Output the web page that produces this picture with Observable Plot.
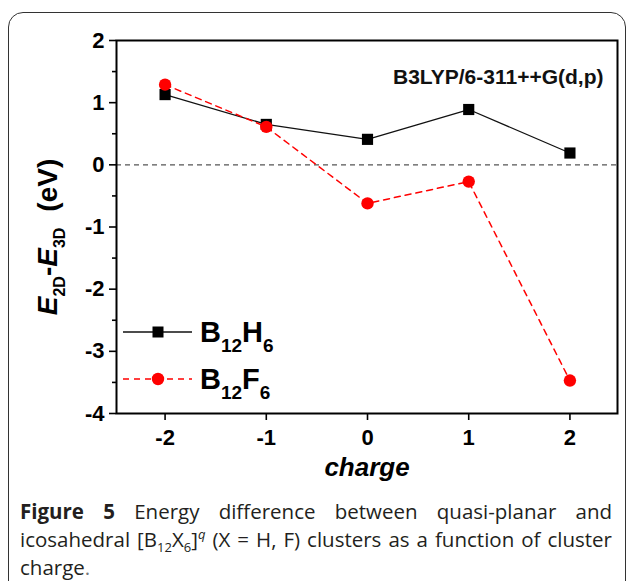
<!DOCTYPE html>
<html>
<head>
<meta charset="utf-8">
<script src="https://cdn.jsdelivr.net/npm/d3@7"></script>
<script src="https://cdn.jsdelivr.net/npm/@observablehq/plot@0.6"></script>
<style>
  html, body { margin: 0; padding: 0; background: #fff; width: 629px; height: 581px; overflow: hidden; }
  #box { position: absolute; left: 8px; top: 12px; width: 618px; height: 620px; border: 1.5px solid #333; border-radius: 15px; box-sizing: border-box; }
  #chart { position: absolute; left: 0; top: 0; }
  #caption { position: absolute; left: 20px; top: 497px; width: 592px; font-family: "Open Sans", "Noto Sans", sans-serif; font-size: 20.5px; font-weight: 500; line-height: 28px; color: #231f20; }
  #caption .j { text-align: justify; text-align-last: justify; }
  #caption b { font-weight: 700; }
  #caption sub, #caption sup { font-size: 13px; line-height: 0; }
  .leg { position: absolute; left: 121px; display: flex; align-items: center; height: 24px; font-family: "Liberation Sans", Arial, sans-serif; font-weight: bold; font-size: 29px; color: #000; }
  .leg .s { font-size: 19px; position: relative; top: 10px; }
</style>
</head>
<body>
<div id="box"></div>
<div id="chart"></div>
<div id="caption">
  <div class="j"><b>Figure 5</b> Energy difference between quasi-planar and</div>
  <div class="j">icosahedral [B<sub>12</sub>X<sub>6</sub>]<sup><i>q</i></sup> (X = H, F) clusters as a function of cluster</div>
  <div>charge<span style="color:#777">.</span></div>
</div>
<script>
// ---- data ----
const charges = [-2, -1, 0, 1, 2];
const b12h6 = [1.13, 0.65, 0.41, 0.89, 0.19];
const b12f6 = [1.29, 0.61, -0.62, -0.27, -3.47];
const xTicks = [-2, -1, 0, 1, 2];
const yTicks = [-4, -3, -2, -1, 0, 1, 2];
const yMinor = [-3.5, -2.5, -1.5, -0.5, 0.5, 1.5];
const seriesNames = ["B12H6", "B12F6"];
const methodLabel = "B3LYP/6-311++G(d,p)";
const xLabel = "charge";

const hData = charges.map((c, i) => ({x: c, y: b12h6[i]}));
const fData = charges.map((c, i) => ({x: c, y: b12f6[i]}));

const red = "#ff0000";

const plot = Plot.plot({
  width: 629,
  height: 490,
  marginLeft: 116,
  marginRight: 12,
  marginTop: 40,
  marginBottom: 77,
  style: {fontFamily: "'Liberation Sans', Arial, sans-serif", fontWeight: "bold", fontSize: "20px", color: "#000", background: "transparent", overflow: "visible"},
  x: {domain: [-2.48, 2.47]},
  y: {domain: [-4, 2]},
  marks: [
    Plot.ruleY([0], {stroke: "#555", strokeWidth: 1.2, strokeDasharray: "5,4"}),
    Plot.axisX({ticks: xTicks, tickSize: 7, tickPadding: 9, strokeWidth: 1.6, tickFormat: d => String(d), label: null, fontSize: 22, fontWeight: "bold"}),
    Plot.axisY({ticks: yTicks, tickSize: 7, tickPadding: 5, strokeWidth: 1.6, tickFormat: d => String(d), label: null, fontSize: 22, fontWeight: "bold"}),
    Plot.axisY({ticks: yMinor, tickSize: 4, strokeWidth: 1.6, text: null, label: null}),
    Plot.line(hData, {x: "x", y: "y", stroke: "#111", strokeWidth: 1.3}),
    Plot.dot(hData, {x: "x", y: "y", symbol: "square", r: 6.3, fill: "#000", stroke: "none"}),
    Plot.line(fData, {x: "x", y: "y", stroke: red, strokeWidth: 1.5, strokeDasharray: "6,5"}),
    Plot.dot(fData, {x: "x", y: "y", symbol: "circle", r: 6.2, fill: red, stroke: "none"}),
    Plot.frame({stroke: "#000", strokeWidth: 2}),
    Plot.text([methodLabel], {frameAnchor: "top-right", textAnchor: "end", lineAnchor: "middle", dx: -14, dy: 37, fontSize: 21, fontWeight: "bold", fill: "#111"}),
    Plot.text([xLabel], {frameAnchor: "bottom", lineAnchor: "middle", dy: 54, fontSize: 26, fontWeight: "bold", fontStyle: "italic", fill: "#000"})
  ]
});
document.getElementById("chart").appendChild(plot);

// y-axis label with subscripts
const svg = d3.select(plot);
const yl = svg.append("text")
  .attr("transform", "translate(57,237) rotate(-90)")
  .attr("text-anchor", "middle")
  .attr("font-size", 28)
  .attr("font-weight", "bold")
  .attr("fill", "#000");
yl.append("tspan").attr("font-style", "italic").text("E");
yl.append("tspan").attr("font-size", 16).attr("dy", 8).text("2D");
yl.append("tspan").attr("dy", -8).text("-");
yl.append("tspan").attr("font-style", "italic").text("E");
yl.append("tspan").attr("font-size", 16).attr("dy", 8).text("3D");
yl.append("tspan").attr("dy", -8).attr("dx", 16).text("(eV)");

// legend
function legendRow(name, y, kind) {
  const row = document.createElement("div");
  row.className = "leg";
  row.style.top = (y - 12) + "px";
  const m = name.match(/^(B)(\d+)([A-Z])(\d+)$/);
  let sw;
  if (kind === "h") {
    sw = `<svg width="72" height="24"><line x1="2" x2="71" y1="12" y2="12" stroke="#111" stroke-width="1.3"/><rect x="31.5" y="6.5" width="11" height="11" fill="#000"/></svg>`;
  } else {
    sw = `<svg width="72" height="24"><line x1="2" x2="71" y1="12" y2="12" stroke="${red}" stroke-width="1.5" stroke-dasharray="6,5"/><circle cx="37" cy="12" r="6.2" fill="${red}"/></svg>`;
  }
  row.innerHTML = sw + `<span style="margin-left:7px">${m[1]}<span class="s">${m[2]}</span>${m[3]}<span class="s">${m[4]}</span></span>`;
  document.body.appendChild(row);
}
legendRow(seriesNames[0], 332, "h");
legendRow(seriesNames[1], 379, "f");
</script>
</body>
</html>
